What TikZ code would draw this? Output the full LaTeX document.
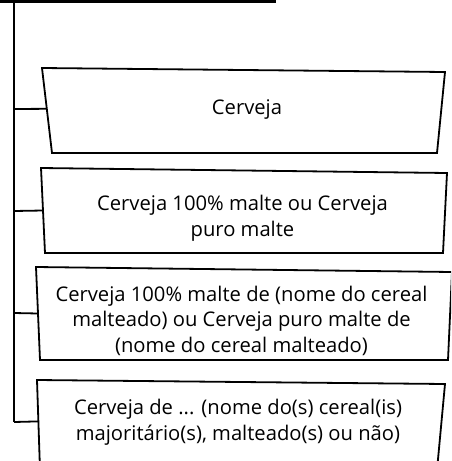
\documentclass[tikz,border=0pt]{standalone}
\usepackage{fontspec}
\setmainfont{Open Sans}
\usetikzlibrary{calc}
\begin{document}
\begin{tikzpicture}[x=1pt,y=-1pt,line width=1.8pt,
    boxtext/.style={align=center,inner sep=0pt,font=\fontsize{20.2}{25.5}\selectfont}]
    \clip (0,0) rectangle (451,461);
    \fill (0,0) rectangle (276,3.2);
    % spine
    \coordinate (top) at (14,0);
    \coordinate (bot) at (14,422);
    \draw (top) -- (bot);
    % box 1
    \coordinate (aTL) at (42,68);  \coordinate (aTR) at (445,72);
    \coordinate (aBR) at (437,153); \coordinate (aBL) at (52,153);
    \draw (aTL) -- (aTR) -- (aBR) -- (aBL) -- cycle;
    \node[boxtext] (cerveja) at (247,110) {Cerveja};
    % box 2
    \coordinate (bTL) at (41,168);  \coordinate (bTR) at (447,173);
    \coordinate (bBR) at (443,253); \coordinate (bBL) at (45,253);
    \draw (bTL) -- (bTR) -- (bBR) -- (bBL) -- cycle;
    \node[boxtext] (puro) at (242.5,218) {Cerveja 100\% malte ou Cerveja\\puro malte};
    % box 3
    \coordinate (cTL) at (36,267);  \coordinate (cTR) at (452,272);
    \coordinate (cBR) at (448,360); \coordinate (cBL) at (40,360);
    \draw (cTL) -- (cTR) -- (cBR) -- (cBL) -- cycle;
    \node[boxtext] (cereal) at (241.5,320.5) {Cerveja 100\% malte de (nome do cereal\\malteado) ou Cerveja puro malte de\\(nome do cereal malteado)};
    % box 4
    \coordinate (dTL) at (37,380);  \coordinate (dTR) at (445,384);
    \coordinate (dBR) at (437,470); \coordinate (dBL) at (40,470);
    \draw (dBL) -- (dTL) -- (dTR) -- (dBR);
    \node[boxtext] (majoritario) at (238,422) {Cerveja de ... (nome do(s) cereal(is)\\majoritário(s), malteado(s) ou não)};
    % connectors
    \draw (top |- 0,109) -- ($(aTL)!0.48!(aBL)$);
    \draw (top |- 0,211) -- ($(bTL)!0.5!(bBL)$);
    \draw (top |- 0,313) -- ($(cTL)!0.5!(cBL)$);
    \draw (bot) -- ($(dTL)!0.46!(dBL)$);
\end{tikzpicture}
\end{document}
